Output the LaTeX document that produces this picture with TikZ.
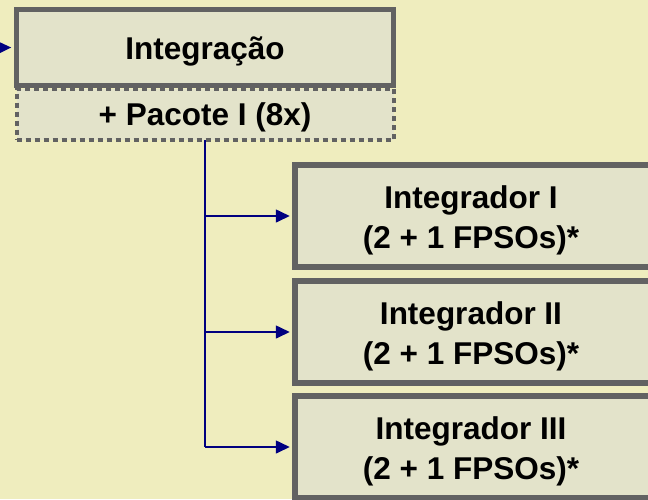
\documentclass[tikz,border=0pt]{standalone}
\usepackage{fontspec}
\setmainfont{Liberation Sans}
\usetikzlibrary{arrows.meta}
\definecolor{bgc}{HTML}{EFEDBE}
\definecolor{boxc}{HTML}{E3E3CA}
\definecolor{edgec}{HTML}{626262}
\definecolor{navyc}{HTML}{000080}
\tikzset{
  solidbox/.style={draw=edgec, line width=5.5pt, fill=boxc, inner sep=0pt},
  dotbox/.style={draw=edgec, line width=4pt, dash pattern=on 5pt off 4pt, fill=boxc, inner sep=0pt},
  lbl/.style={inner sep=0pt, align=center, font=\fontsize{31.5}{40}\selectfont\bfseries},
  conn/.style={draw=navyc, line width=1.6pt},
  arr/.style={conn, -{Triangle[length=14pt,width=13pt]}, shorten >=2.5pt}
}
\begin{document}
\begin{tikzpicture}[x=1pt,y=-1pt]
\useasboundingbox (0,0) rectangle (648,499);
\fill[bgc] (0,0) rectangle (648,499);
\clip (0,0) rectangle (648,499);
\node[dotbox, minimum width=377pt, minimum height=51pt] (pac) at (205,114) {};
\node[solidbox, minimum width=377pt, minimum height=76pt] (int) at (205,47.5) {};
\node[solidbox, minimum width=356pt, minimum height=102pt] (i1) at (473,216) {};
\node[solidbox, minimum width=356pt, minimum height=102pt] (i2) at (473,332) {};
\node[solidbox, minimum width=356pt, minimum height=102pt] (i3) at (473,447) {};
\node[lbl] (pac-t) at ([yshift=-3pt]pac.center) {+ Pacote I (8x)};
\node[lbl] (int-t) at ([yshift=-4pt]int.center) {Integração};
\node[lbl] (i1-t) at ([xshift=-2pt,yshift=-4pt]i1.center) {Integrador I\\(2 + 1 FPSOs)*};
\node[lbl] (i2-t) at ([xshift=-2pt,yshift=-4pt]i2.center) {Integrador II\\(2 + 1 FPSOs)*};
\node[lbl] (i3-t) at ([xshift=-2pt,yshift=-4pt]i3.center) {Integrador III\\(2 + 1 FPSOs)*};
\coordinate (src) at (-30,48);
\coordinate (trunk) at (205,140);
\draw[arr] (src) -- (int.west);
\draw[conn] (trunk) -- (trunk |- i3.west);
\draw[arr] (trunk |- i1.west) -- (i1.west);
\draw[arr] (trunk |- i2.west) -- (i2.west);
\draw[arr] (trunk |- i3.west) -- (i3.west);
\end{tikzpicture}
\end{document}
